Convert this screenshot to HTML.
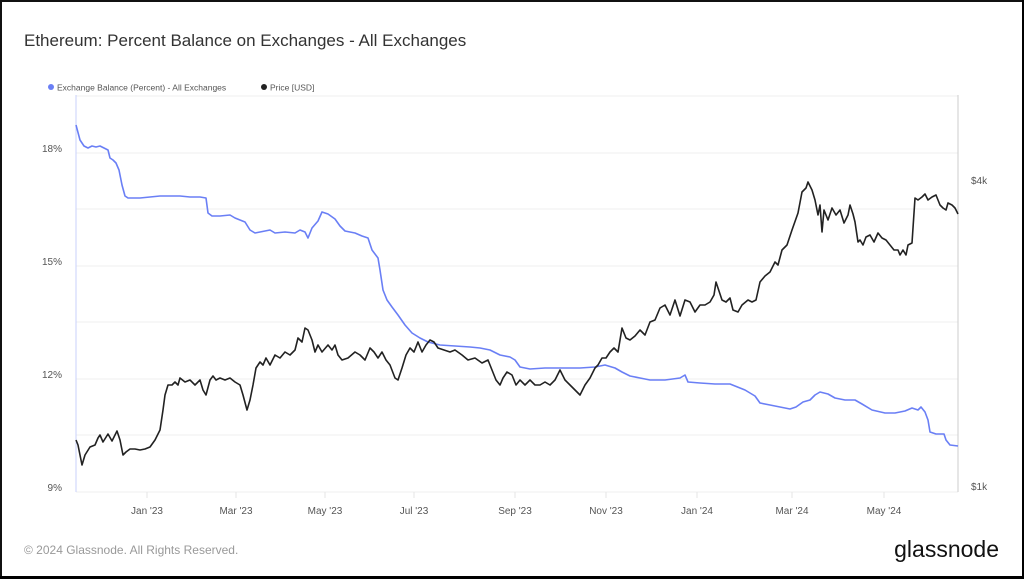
<!DOCTYPE html>
<html><head><meta charset="utf-8"><style>
html,body{margin:0;padding:0;background:#000;}
#f{position:absolute;left:0;top:0;width:1020px;height:574px;background:#fff;border-left:2px solid #111;border-top:2px solid #111;font-family:"Liberation Sans",sans-serif;}
</style></head><body>
<div id="f">
<svg width="1020" height="574" xmlns="http://www.w3.org/2000/svg" font-family="Liberation Sans, sans-serif" style="position:absolute;left:-2px;top:-2px;overflow:visible">
<text x="24" y="46" font-size="17" fill="#333">Ethereum: Percent Balance on Exchanges - All Exchanges</text>
<circle cx="51" cy="87" r="3" fill="#6a7ff5"/>
<text x="57" y="90.5" font-size="8.5" fill="#555">Exchange Balance (Percent) - All Exchanges</text>
<circle cx="264" cy="87" r="3" fill="#222"/>
<text x="270" y="90.5" font-size="8.5" fill="#555">Price [USD]</text>
<g stroke="#efefef" stroke-width="1">
<line x1="76" x2="958" y1="96" y2="96"/><line x1="76" x2="958" y1="153" y2="153"/>
<line x1="76" x2="958" y1="209" y2="209"/><line x1="76" x2="958" y1="266" y2="266"/>
<line x1="76" x2="958" y1="322" y2="322"/><line x1="76" x2="958" y1="379" y2="379"/>
<line x1="76" x2="958" y1="435" y2="435"/><line x1="76" x2="958" y1="492" y2="492"/>
</g>
<line x1="76" x2="76" y1="95" y2="492" stroke="#c9d2fb" stroke-width="1"/>
<line x1="958" x2="958" y1="95" y2="492" stroke="#ccc" stroke-width="1"/>
<g stroke="#e5e5e5"><line x1="147" x2="147" y1="492" y2="498"/><line x1="236" x2="236" y1="492" y2="498"/><line x1="325" x2="325" y1="492" y2="498"/><line x1="414" x2="414" y1="492" y2="498"/><line x1="515" x2="515" y1="492" y2="498"/><line x1="606" x2="606" y1="492" y2="498"/><line x1="697" x2="697" y1="492" y2="498"/><line x1="792" x2="792" y1="492" y2="498"/><line x1="884" x2="884" y1="492" y2="498"/></g>
<g font-size="10" fill="#555" text-anchor="end">
<text x="62" y="152">18%</text><text x="62" y="265">15%</text><text x="62" y="378">12%</text><text x="62" y="491">9%</text></g>
<g font-size="10" fill="#555"><text x="971" y="184">$4k</text><text x="971" y="490">$1k</text></g>
<g font-size="10" fill="#555" text-anchor="middle">
<text x="147" y="514">Jan '23</text><text x="236" y="514">Mar '23</text><text x="325" y="514">May '23</text><text x="414" y="514">Jul '23</text><text x="515" y="514">Sep '23</text><text x="606" y="514">Nov '23</text><text x="697" y="514">Jan '24</text><text x="792" y="514">Mar '24</text><text x="884" y="514">May '24</text></g>
<polyline fill="none" stroke="#6a7ff5" stroke-width="1.6" stroke-linejoin="round" points="76,125 80,140 84,146 88,148 92,146 96,147 100,146 104,148 108,150 110,158 113,160 116,163 119,170 122,185 125,196 128,198 140,198 150,197 160,196 170,196 180,196 190,197 200,197 206,198 208,213 212,216 220,216 230,215 235,218 245,222 250,230 255,233 260,232 270,230 275,233 285,232 295,233 300,230 305,232 308,238 312,228 318,221 322,212 328,214 335,219 340,226 345,231 355,233 362,236 368,238 372,250 378,258 380,270 383,290 387,300 392,307 398,315 405,325 412,333 420,338 428,342 440,345 455,346 470,347 480,348 490,350 500,355 510,357 515,360 520,367 530,369 545,368 560,368 580,368 595,367 605,365 615,368 622,372 630,376 640,378 650,380 665,380 680,378 685,375 688,382 700,383 715,384 730,384 745,390 755,396 760,403 770,405 780,407 790,409 796,407 803,402 810,400 815,395 820,392 828,394 835,398 845,400 855,400 862,404 872,410 885,413 895,413 905,411 912,408 918,410 921,407 925,412 928,420 930,432 936,434 944,434 946,440 950,445 958,446"/>
<polyline fill="none" stroke="#222" stroke-width="1.6" stroke-linejoin="round" points="76,440 78,445 82,465 85,455 90,447 95,445 98,438 100,435 103,442 108,434 112,441 117,431 120,440 123,455 126,452 130,449 135,449 140,450 145,449 150,447 155,440 160,430 163,410 165,395 168,385 172,385 175,382 178,385 180,378 185,382 190,380 195,385 200,380 203,390 206,395 210,380 213,376 216,380 220,378 225,380 230,378 235,382 240,385 243,395 247,410 250,400 253,385 256,368 260,362 263,365 266,358 270,365 275,355 280,358 285,352 290,355 295,350 298,338 302,342 305,328 308,330 312,340 315,352 318,345 322,352 328,345 332,350 335,345 338,355 342,360 348,358 355,352 360,355 365,360 370,348 374,352 378,358 382,352 386,360 390,365 395,378 398,380 402,368 406,355 410,348 414,352 418,342 422,352 426,345 430,340 434,342 438,348 444,350 450,352 455,350 462,355 468,360 475,358 482,363 488,360 492,370 496,380 500,385 503,378 507,372 512,375 516,385 520,380 525,385 530,380 535,385 540,385 545,382 550,385 555,380 560,370 565,380 570,385 575,390 580,395 585,385 590,378 595,368 598,365 602,358 606,358 610,352 614,348 618,352 622,328 626,338 630,340 635,336 640,330 645,335 650,322 655,320 660,308 665,305 670,315 675,300 680,316 685,300 690,302 695,312 700,305 705,305 710,302 714,295 716,282 718,288 722,300 726,302 730,298 733,310 738,312 742,305 748,300 752,302 756,300 760,282 765,276 770,272 775,262 778,265 782,250 787,245 792,230 798,213 802,192 806,188 808,182 812,190 815,200 818,215 820,205 822,232 824,210 828,220 832,208 836,215 840,210 844,223 848,215 850,205 853,214 855,222 858,242 860,240 863,245 866,237 870,235 874,242 878,233 882,238 886,240 890,245 894,250 898,250 900,255 903,250 906,255 908,245 912,243 915,198 918,200 922,197 925,194 928,200 932,197 936,195 940,205 943,208 946,210 948,203 952,205 955,208 958,214"/>
<text x="24" y="554" font-size="12" fill="#999">© 2024 Glassnode. All Rights Reserved.</text>
<text x="999" y="557" font-size="23" fill="#111" text-anchor="end">glassnode</text>
</svg>
</div>
</body></html>
